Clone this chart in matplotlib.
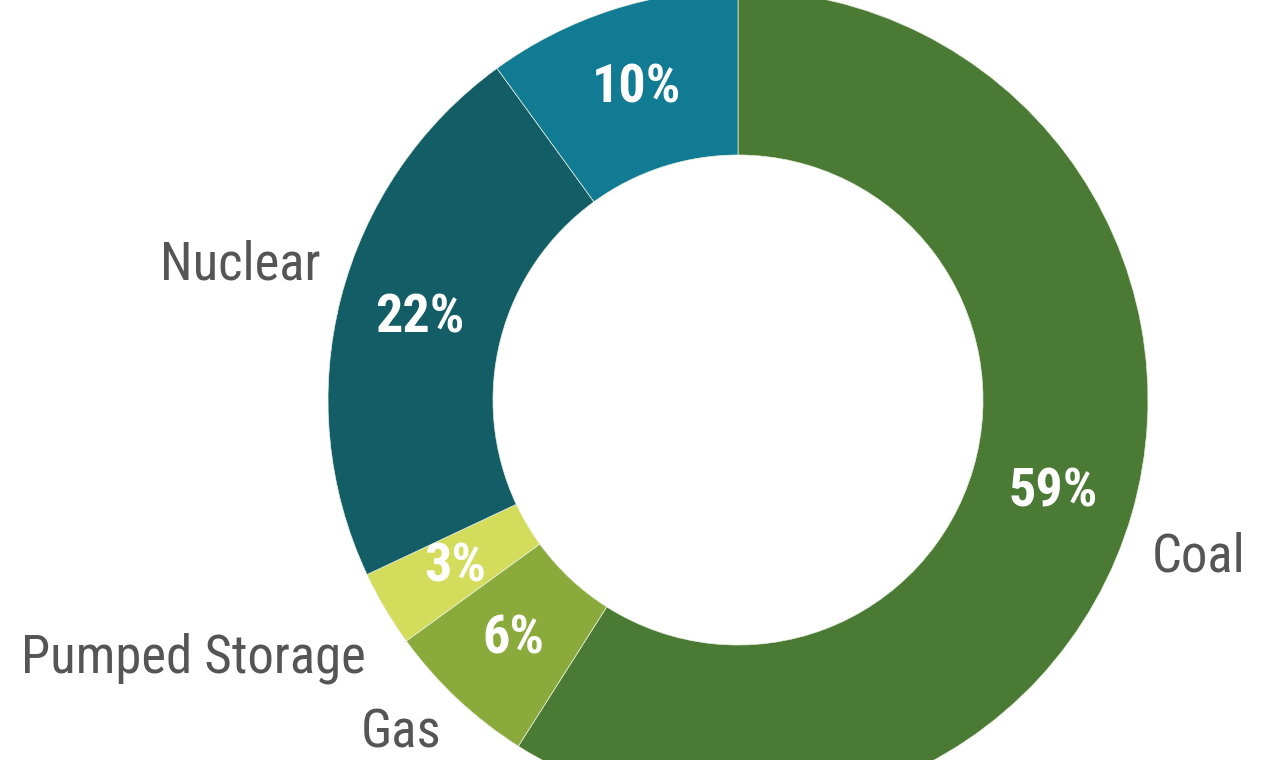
import matplotlib
matplotlib.use("Agg")
import matplotlib.pyplot as plt
from matplotlib import font_manager

# generation mix, clockwise from 12 o'clock
sources = ["Coal", "Gas", "Pumped Storage", "Nuclear", ""]
shares = [59, 6, 3, 22, 10]
colors = ["#4b7a35", "#8aab3b", "#d4dc5b", "#135d66", "#127b94"]

# pick a narrow face if one is around
installed = {f.name for f in font_manager.fontManager.ttflist}
family = "DejaVu Sans"
for cand in ["Roboto Condensed", "Liberation Sans Narrow", "DejaVu Sans Condensed"]:
    if cand in installed:
        family = cand
        break

fig = plt.figure(figsize=(12.78, 7.6), dpi=100)
ax = fig.add_axes([0, 0, 1, 1])

wedges, _, pcts = ax.pie(
    shares,
    colors=colors,
    startangle=90,
    counterclock=False,
    radius=410,
    center=(738, 360),
    wedgeprops=dict(width=165, edgecolor="#e8f0e0", linewidth=0.5),
    autopct="%.0f%%",
    pctdistance=0.8,
)
for t in pcts:
    t.set_color("white")
    t.set_fontsize(39)
    t.set_fontweight("bold")
    t.set_family(family)

# outer category labels (placed by hand like the original)
label_pos = {
    "Coal": (1152, 188, "left"),
    "Nuclear": (320, 480, "right"),
    "Pumped Storage": (366, 88, "right"),
    "Gas": (441, 12, "right"),
}
for name in sources:
    if name in label_pos:
        x, y, ha = label_pos[name]
        ax.text(x, y, name, ha=ha, va="baseline", fontsize=38,
                color="#555555", family=family)

ax.set_xlim(0, 1278)
ax.set_ylim(0, 760)
ax.set_aspect("equal")
ax.axis("off")

fig.savefig("out.png", dpi=100, facecolor="white")
